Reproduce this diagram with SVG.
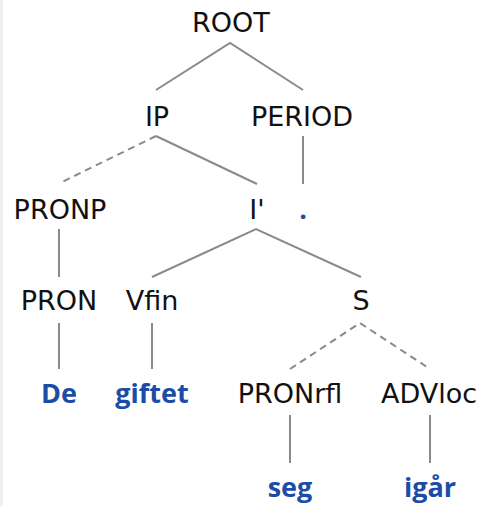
<svg xmlns="http://www.w3.org/2000/svg" width="483" height="506" viewBox="0 0 483 506">
<style>
.n{font-family:"DejaVu Sans",Verdana,sans-serif;font-size:27px;fill:#111;text-anchor:middle}
.w{font-family:"Open Sans","Noto Sans",sans-serif;font-size:27px;font-weight:bold;fill:#1c4ca6;text-anchor:middle}
.e{stroke:#8a8a8a;stroke-width:2;fill:none}
.d{stroke-dasharray:7 5}
</style>
<rect x="0" y="0" width="483" height="506" fill="#fff"/>
<rect x="0" y="0" width="3" height="506" fill="#efefef"/>
<g id="connectors">
<polyline class="e" points="156,90 230,43 303,90"/>
<line class="e d" x1="156" y1="136" x2="62" y2="182"/>
<line class="e" x1="156" y1="136" x2="257" y2="184"/>
<line class="e" x1="303" y1="136" x2="303" y2="184"/>
<line class="e" x1="59" y1="229" x2="59" y2="277"/>
<polyline class="e" points="152,277 256,229 361,277"/>
<line class="e" x1="59" y1="323" x2="59" y2="369"/>
<line class="e" x1="152" y1="323" x2="152" y2="369"/>
<polyline class="e d" points="290,369 360,323 430,369"/>
<line class="e" x1="290" y1="415" x2="290" y2="463"/>
<line class="e" x1="430" y1="415" x2="430" y2="463"/>
</g>
<g id="ROOT"><text class="n" x="231" y="32">ROOT</text></g>
<g id="IP"><text class="n" x="157" y="126">IP</text></g>
<g id="PERIOD"><text class="n" x="302" y="126">PERIOD</text></g>
<g id="PRONP"><text class="n" x="60" y="219">PRONP</text></g>
<g id="Ibar"><text class="n" x="257" y="219">I'</text></g>
<g id="dot"><text class="w" x="303" y="219">.</text></g>
<g id="PRON"><text class="n" x="59" y="310">PRON</text></g>
<g id="Vfin"><text class="n" x="152" y="310">Vfin</text></g>
<g id="S"><text class="n" x="361" y="310">S</text></g>
<g id="De"><text class="w" x="59" y="403">De</text></g>
<g id="giftet"><text class="w" x="152" y="403">giftet</text></g>
<g id="PRONrfl"><text class="n" x="290" y="403">PRONrfl</text></g>
<g id="ADVloc"><text class="n" x="429" y="403">ADVloc</text></g>
<g id="seg"><text class="w" x="290" y="497">seg</text></g>
<g id="igar"><text class="w" x="430" y="497">igår</text></g>
</svg>
